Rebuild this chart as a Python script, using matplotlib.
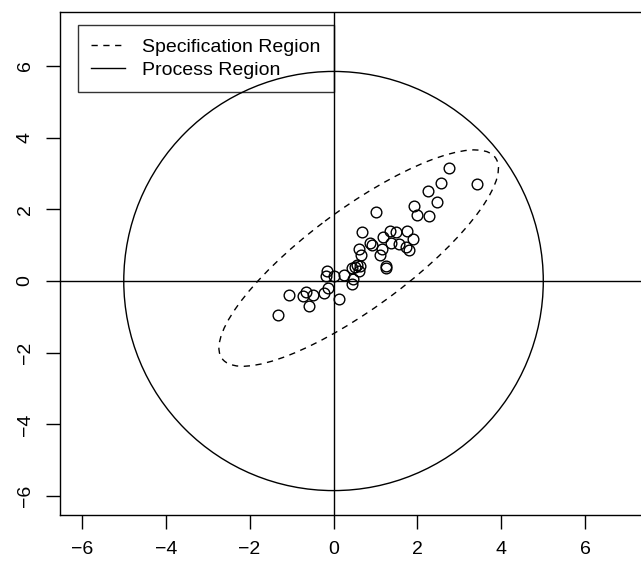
import numpy as np
import matplotlib
matplotlib.use("Agg")
import matplotlib.pyplot as plt
from matplotlib.patches import Ellipse
from matplotlib.lines import Line2D

plt.rcParams['font.family'] = ['Liberation Sans', 'DejaVu Sans']

x_obs = [-1.32, -1.05, -0.72, -0.65, -0.49, -0.58, -0.22, -0.12, -0.16, -0.17,
         0.02, 0.14, 0.24, 0.45, 0.46, 0.44, 0.50, 0.57, 0.64, 0.61,
         0.66, 0.60, 0.69, 0.88, 0.91, 1.01, 1.10, 1.15, 1.18, 1.26,
         1.26, 1.35, 1.38, 1.50, 1.57, 1.75, 1.89, 1.73, 1.80, 1.92,
         1.99, 2.28, 2.25, 2.47, 2.55, 2.75, 3.41]
y_obs = [-0.96, -0.39, -0.41, -0.32, -0.40, -0.69, -0.34, -0.19, 0.27, 0.14,
         0.15, -0.49, 0.16, -0.09, 0.05, 0.37, 0.40, 0.44, 0.43, 0.28,
         0.72, 0.90, 1.37, 1.06, 1.00, 1.93, 0.74, 0.88, 1.22, 0.41,
         0.35, 1.40, 1.05, 1.36, 1.03, 1.40, 1.17, 0.94, 0.87, 2.09,
         1.84, 1.81, 2.51, 2.21, 2.73, 3.16, 2.70]

# specification region: centre and shape matrix
spec_center = (0.60, 0.64)
spec_matrix = np.array([[11.1, 8.35],
                        [8.35, 9.12]])

# process region: centre and half-axes
proc_center = (0.0, 0.0)
proc_half_axes = (5.0, 5.85)

ticks = [-6, -4, -2, 0, 2, 4, 6]

dash = (0, (4.5, 4))

fig = plt.figure(figsize=(6.41, 5.66), dpi=100)
ax = fig.add_axes([60 / 641, 51.4 / 566, 589 / 641, 503 / 566])
ax.set_xlim(-6.52, 7.52)
ax.set_ylim(-6.52, 7.52)

ax.axhline(0, color='black', lw=1.0, zorder=1)
ax.axvline(0, color='black', lw=1.0, zorder=1)

vals, vecs = np.linalg.eigh(spec_matrix)
angle = np.degrees(np.arctan2(vecs[1, 1], vecs[0, 1]))
spec = Ellipse(spec_center, 2 * np.sqrt(vals[1]), 2 * np.sqrt(vals[0]), angle=angle,
               fill=False, ec='black', lw=1.0, ls=dash)
ax.add_patch(spec)

proc = Ellipse(proc_center, 2 * proc_half_axes[0], 2 * proc_half_axes[1],
               fill=False, ec='black', lw=1.0)
ax.add_patch(proc)

ax.plot(x_obs, y_obs, 'o', mfc='none', mec='black', ms=7.7, mew=1.0, zorder=3)

ax.set_xticks(ticks)
ax.set_yticks(ticks)
ax.tick_params(direction='out', length=10, width=1.0, labelsize=14, pad=9)
for lab in ax.get_yticklabels():
    lab.set_rotation(90)
    lab.set_va('center')
for s in ax.spines.values():
    s.set_linewidth(1.0)

handles = [Line2D([], [], color='black', lw=1.0, ls=dash),
           Line2D([], [], color='black', lw=1.0)]
leg = ax.legend(handles, ['Specification Region', 'Process Region'],
                loc='upper left', bbox_to_anchor=(0.0299, 0.9734), borderaxespad=0,
                fontsize=14, fancybox=False, edgecolor='black', facecolor='none',
                framealpha=None, handlelength=1.75, handletextpad=0.85,
                borderpad=0.7, labelspacing=0.25)
leg.get_frame().set_linewidth(1.0)

fig.savefig('out.png', dpi=100)
